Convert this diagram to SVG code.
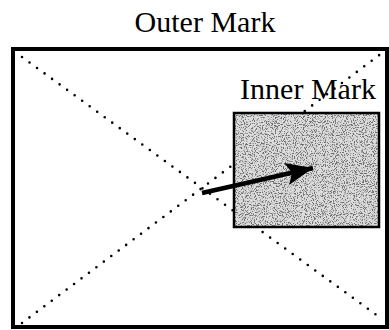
<svg xmlns="http://www.w3.org/2000/svg" width="389" height="330" viewBox="0 0 389 330">
<defs>
<style>
.lbl{font-family:"Liberation Serif","Times New Roman",serif;font-size:30px;fill:#000}
.dots{stroke:#000;stroke-width:2.6;stroke-linecap:round;stroke-dasharray:0 9.3;fill:none}
</style>
<filter id="speck" x="0" y="0" width="100%" height="100%">
<feTurbulence type="fractalNoise" baseFrequency="0.9" numOctaves="2" seed="3" result="n"/>
<feColorMatrix in="n" type="matrix" values="0 0 0 0 0  0 0 0 0 0  0 0 0 0 0  0 0 0 -7 3.4" result="s"/>
<feComposite in="s" in2="SourceGraphic" operator="in"/>
</filter>
<marker id="ah" viewBox="0 0 10 10" refX="10" refY="5" markerWidth="6" markerHeight="5" orient="auto" markerUnits="strokeWidth" preserveAspectRatio="none">
<path d="M0,0 L10,5 L0,10 L2,5 z" fill="#000"/>
</marker>
</defs>
<rect width="389" height="330" fill="#fff"/>
<g id="outer">
<rect x="13" y="49" width="374" height="278" fill="none" stroke="#000" stroke-width="4"/>
<text class="lbl" x="205" y="32" text-anchor="middle">Outer Mark</text>
</g>
<g id="diagonals">
<line class="dots" x1="22" y1="57" x2="382" y2="319"/>
<line class="dots" x1="22" y1="323" x2="382" y2="53"/>
</g>
<g id="inner">
<rect x="234" y="113" width="145" height="114" fill="#dcdcdc"/>
<rect x="234" y="113" width="145" height="114" fill="#000" filter="url(#speck)" opacity="0.5"/>
<rect x="234" y="113" width="145" height="114" fill="none" stroke="#000" stroke-width="2.5"/>
<text class="lbl" x="308" y="99" text-anchor="middle">Inner Mark</text>
</g>
<g id="connectors">
<line x1="202" y1="193" x2="313" y2="168" stroke="#000" stroke-width="4.5" marker-end="url(#ah)"/>
</g>
</svg>
